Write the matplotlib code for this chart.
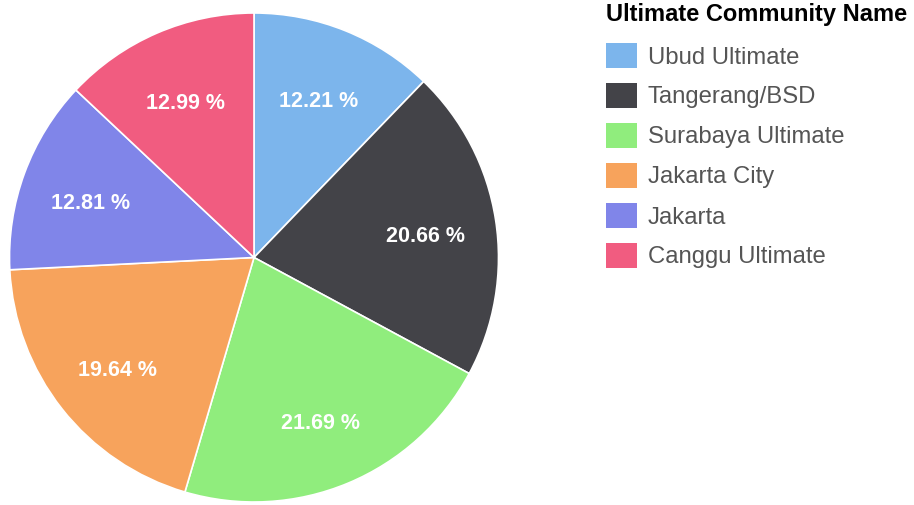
import matplotlib
matplotlib.use("Agg")
import matplotlib.pyplot as plt
from matplotlib.patches import Rectangle

plt.rcParams["font.family"] = ["Liberation Sans", "DejaVu Sans"]

communities = ["Ubud Ultimate", "Tangerang/BSD", "Surabaya Ultimate",
               "Jakarta City", "Jakarta", "Canggu Ultimate"]
shares = [12.21, 20.66, 21.69, 19.64, 12.81, 12.99]
colors = ["#7cb5ec", "#434348", "#90ed7d", "#f7a35c", "#8085e9", "#f15c80"]
legend_title = "Ultimate Community Name"

W, H = 914, 506
fig = plt.figure(figsize=(W / 100, H / 100), dpi=100)

# pie centred at roughly (254, 258.5) px with radius ~244.5 px
ax = fig.add_axes([9.5 / W, 3 / H, 489 / W, 489 / H])
wedges, _, autotexts = ax.pie(
    shares, colors=colors, startangle=90, counterclock=False,
    radius=1.0, autopct=lambda p: f"{p:.2f} %", pctdistance=0.71,
    wedgeprops=dict(edgecolor="white", linewidth=1.2),
    textprops=dict(color="white", fontsize=15.5, fontweight="bold"),
)
# labels sit a few pixels lower in the reference
for t in autotexts:
    x, y = t.get_position()
    t.set_position((x, y - 0.018))
ax.set_xlim(-1, 1)
ax.set_ylim(-1, 1)
ax.set_aspect("equal")
ax.axis("off")

# legend drawn by hand in pixel coordinates
fig.text(606 / W, 1 - 15 / H, legend_title, fontsize=17, fontweight="bold",
         color="black", va="center", ha="left")
for i, (name, c) in enumerate(zip(communities, colors)):
    yc = 56 + 40 * i
    fig.patches.append(Rectangle((606 / W, 1 - (yc + 13) / H), 31 / W, 25 / H,
                                 facecolor=c, edgecolor="none",
                                 transform=fig.transFigure, figure=fig))
    fig.text(648 / W, 1 - (yc + 1.5) / H, name, fontsize=17.2, color="#555555",
             va="center", ha="left")

fig.savefig("out.png", dpi=100)
